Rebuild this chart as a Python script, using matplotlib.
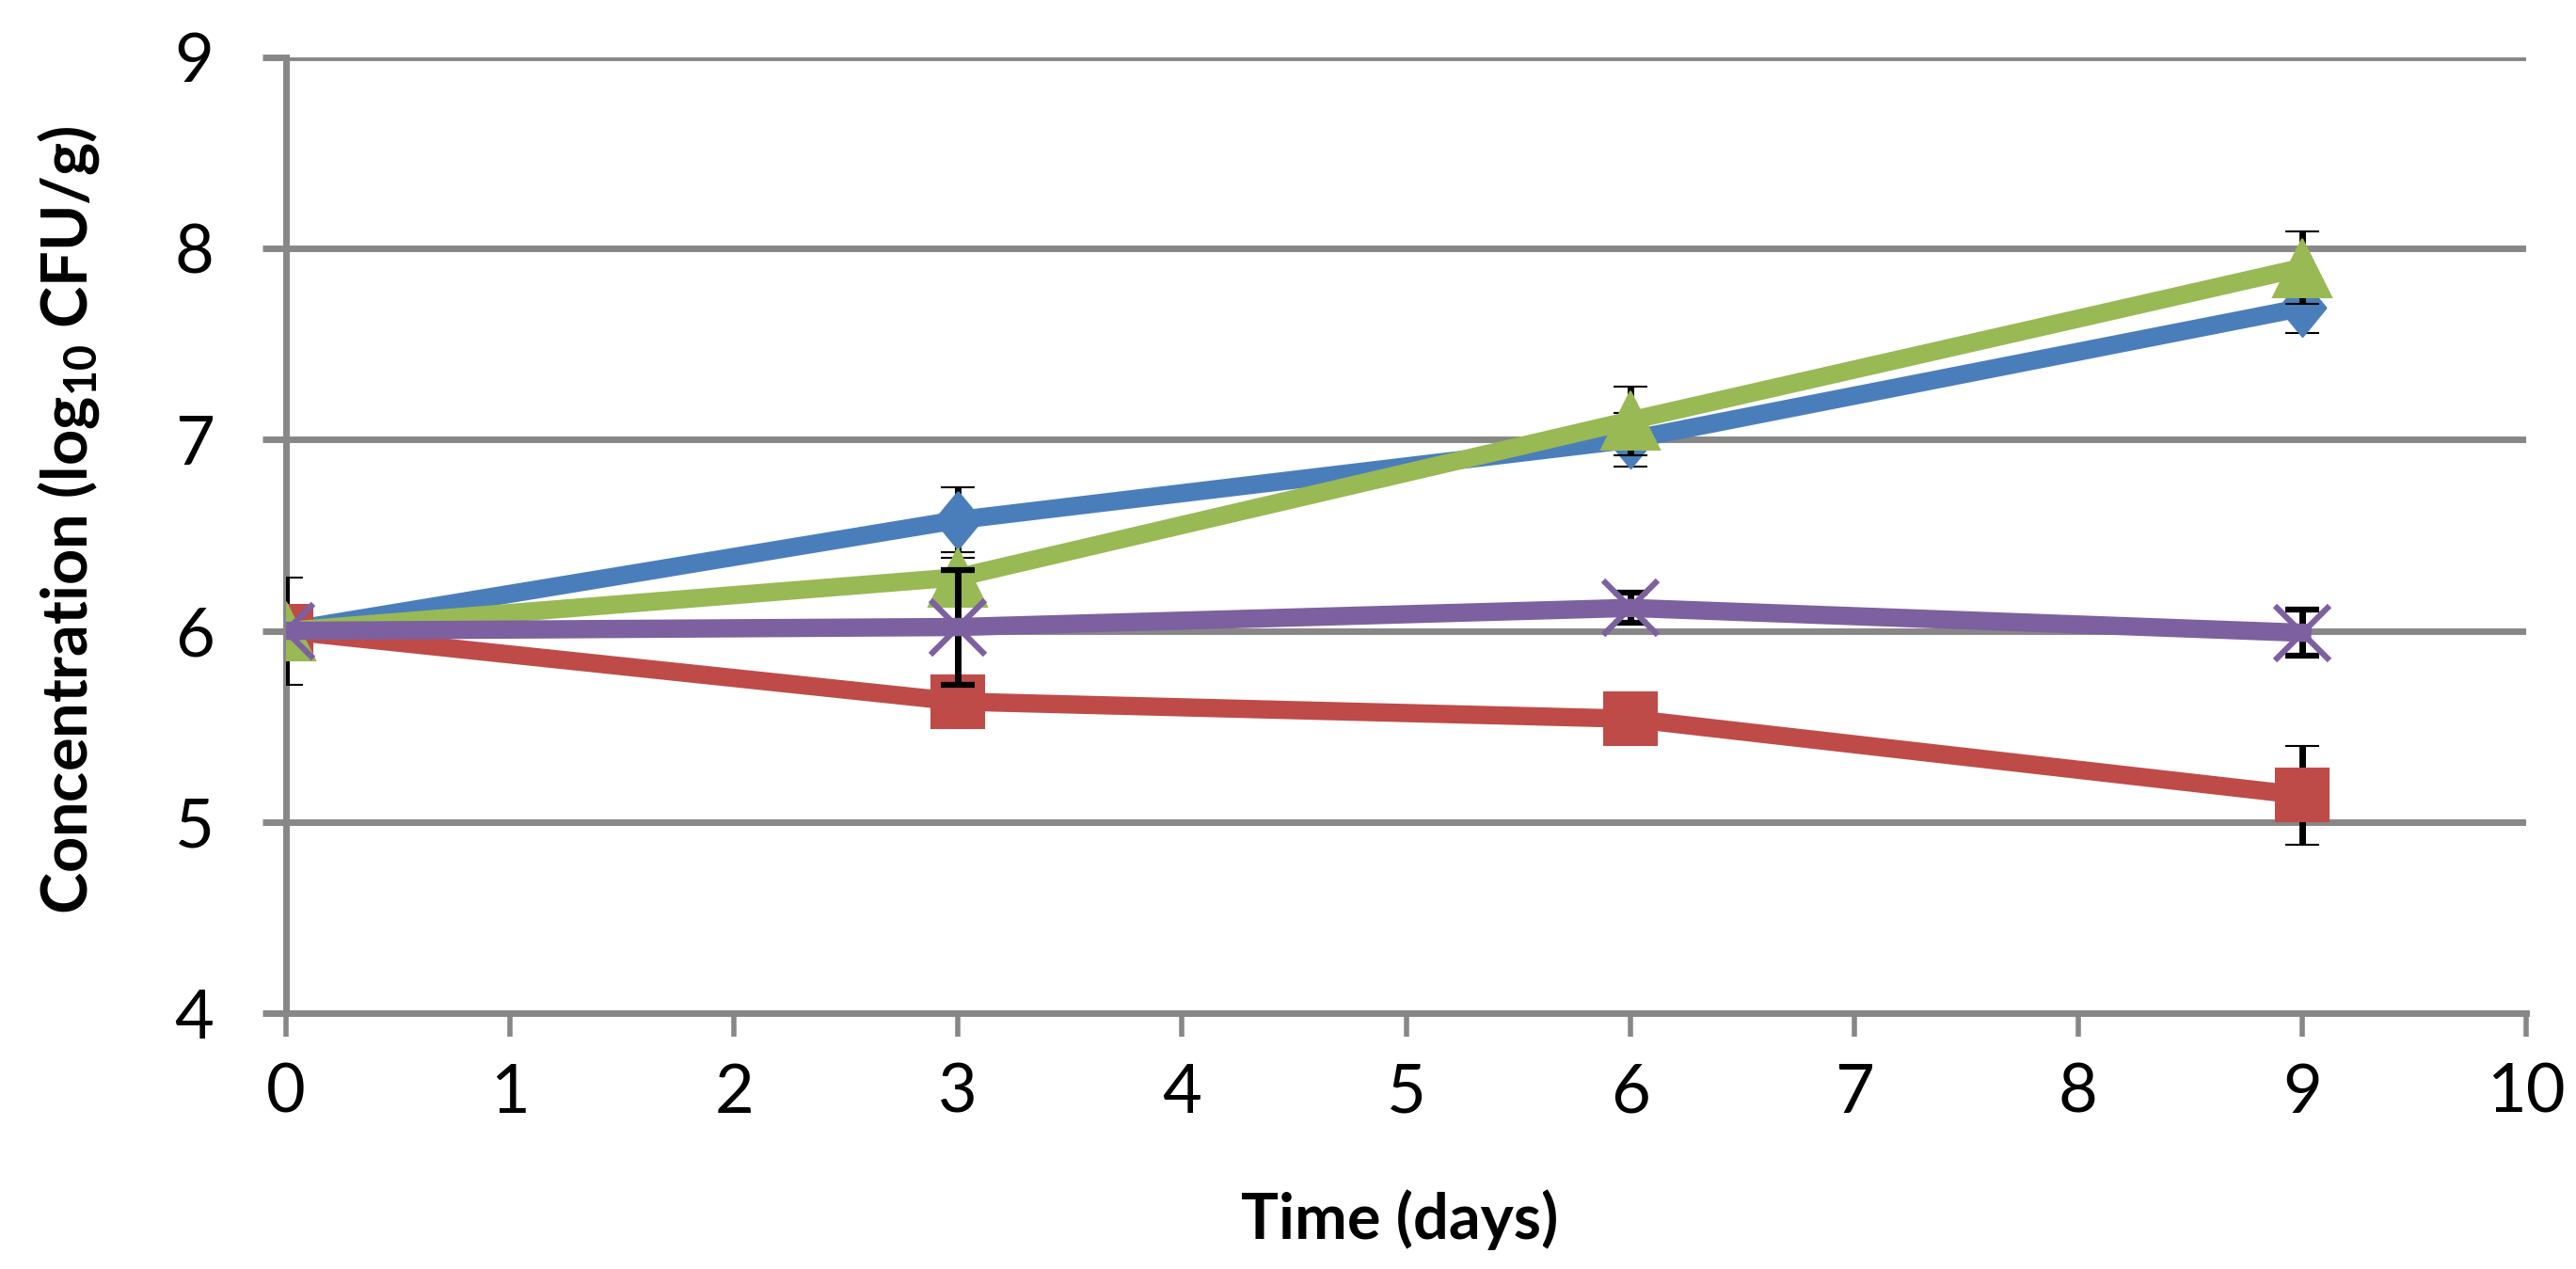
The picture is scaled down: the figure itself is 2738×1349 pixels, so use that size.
import matplotlib.pyplot as plt

plt.rcParams['font.family'] = ['Lato', 'DejaVu Sans']
plt.rcParams['mathtext.fontset'] = 'custom'
plt.rcParams['mathtext.rm'] = 'Lato:bold'
plt.rcParams['mathtext.default'] = 'rm'

days = [0, 3, 6, 9]

# series values (log10 CFU/g) and error bars
blue = [6.0, 6.58, 7.0, 7.69]
blue_err = [0.0, 0.17, 0.14, 0.13]
red = [6.0, 5.63, 5.54, 5.14]
red_err = [0.28, 0.0, 0.0, 0.26]
green = [6.0, 6.28, 7.1, 7.9]
green_err = [0.0, 0.1, 0.18, 0.19]
purple = [6.0, 6.02, 6.12, 5.99]
purple_err = [0.0, 0.3, 0.08, 0.12]

grid_col = '#878787'
diamond = [(0, 1), (0.82, 0), (0, -1), (-0.82, 0), (0, 1)]

fig = plt.figure(figsize=(27.38, 13.49), dpi=100)
ax = fig.add_axes([0.111, 0.2016, 0.8697, 0.7532])

styles = [
    (blue, blue_err, '#4A7EBB', diamond, 44),
    (red, red_err, '#BE4B48', 's', 41),
    (green, green_err, '#98B954', '^', 44),
    (purple, purple_err, '#7D60A0', 'x', 42),
]
for i, (vals, err, col, mk, ms) in enumerate(styles):
    ax.errorbar(days, vals, yerr=err, color=col, lw=14, marker=mk, ms=ms,
                mec=col, mew=4.5 if mk == 'x' else 1.5,
                ecolor='black', elinewidth=5, capsize=13, capthick=5,
                zorder=3 + i)

ax.set_xlim(0, 10)
ax.set_ylim(4, 9)
ax.set_xticks(range(0, 11))
ax.set_yticks(range(4, 10))
ax.yaxis.grid(True, color=grid_col, lw=5)
ax.set_axisbelow(True)

for s in ['top', 'right']:
    ax.spines[s].set_visible(False)
for s in ['left', 'bottom']:
    ax.spines[s].set_color(grid_col)
    ax.spines[s].set_linewidth(5)

ax.tick_params(axis='y', length=18, width=5, color=grid_col, pad=37,
               labelsize=52)
ax.tick_params(axis='x', length=18, width=4, color=grid_col, pad=20,
               labelsize=52)

# axis titles placed where the reference has them
fig.text(0.5435, 0.0385, 'Time (days)', fontsize=48, fontweight='bold',
         ha='center', va='center')
fig.text(0.0267, 0.590, r'Concentration (log$_{10}$ CFU/g)', fontsize=48,
         fontweight='bold', rotation=90, ha='center', va='center')

fig.savefig('out.png', dpi=100)
